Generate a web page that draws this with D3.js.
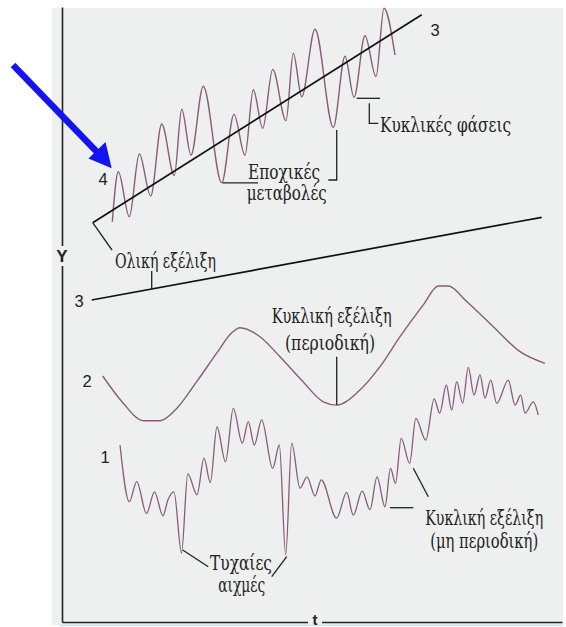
<!DOCTYPE html>
<html><head><meta charset="utf-8">
<script src="https://cdn.jsdelivr.net/npm/d3@7"></script>
<style>html,body{margin:0;padding:0;background:#fff;} svg{display:block;}</style>
</head><body><svg id="c" width="566" height="627"></svg>
<script>
// ---- data (t, Y) ----
const seasonalTrend = [[6.14,66.55],[71.94,101.2]];
const seasonal = [[10.06,66.7],[11.26,75.05],[13.46,67.55],[15.46,78],[17.74,71],[19.94,83],[22.46,74.4],[23.94,85.45],[25.8,77.8],[28.26,89.3],[31.94,73.2],[34.4,84.6],[36.6,77.8],[38.26,88.7],[40.14,82.3],[42.14,92.1],[44.8,83.55],[46.26,94.8],[47.94,87.55],[50.6,98.8],[54.26,82.45],[56.6,94.3],[58.4,87.45],[60.6,97.7],[62.8,90.9],[64.4,102.3],[66.6,94.5]];
const trend = [[5.94,53.67],[95.94,67.45]];
const periodic = [[8.14,41],[12.26,36.45],[16.26,33.55],[19.6,33.55],[22.94,35.6],[26.94,40.05],[30.94,44.8],[33.94,48.2],[35.6,49.05],[39.6,47.55],[43.6,44.2],[47.94,40.3],[52.26,36.7],[54.94,36.15],[59.26,38.4],[63.6,42.55],[67.6,47.55],[72.26,52.85],[75.26,56],[77.26,56],[80.94,53.4],[86.26,49.2],[91.6,45.05],[96.6,43.1]];
const irregular = [[11.6,29.5],[13.46,20.05],[14.94,23.4],[16.9,18.1],[18.5,21.7],[20.2,17.7],[21.16,20.3],[22.4,21.7],[23.9,11.5],[25.16,24.7],[27,21.2],[28.4,27.3],[29.66,23.25],[31,32.5],[32.7,26.7],[34.26,35.6],[36.06,29.8],[37.26,33.4],[38.46,29.5],[39.94,33.7],[42.14,25.6],[43.46,29.5],[44.74,11.2],[45.94,29.8],[47.6,22.3],[49,24.2],[50.6,21],[51.84,23.7],[54.92,17.3],[56.94,21.6],[58.26,17.8],[60.04,21.8],[61.6,18.7],[63,24.2],[64.6,19.2],[65.7,25.6],[66.7,23.1],[67.84,30.6],[69.54,26.45],[70.76,33.95],[72.76,30.3],[74.44,37.2],[75.54,34.8],[76.86,39.5],[77.94,35.3],[78.94,40.05],[80.14,36.45],[81.26,42.45],[82.4,37.8],[83.6,41.2],[84.6,37.3],[85.74,40.3],[86.94,36.45],[89.26,40.3],[90.6,36.15],[91.74,37.8],[92.6,34.8],[94.26,36.7],[95.26,34.5]];
const seriesNumbers = ["4","3","3","2","1"];
const axisLabels = ["Y","t"];
const notes = ["Εποχικές","μεταβολές","Κυκλικές φάσεις","Ολική εξέλιξη","Κυκλική εξέλιξη","(περιοδική)","Τυχαίες","αιχμές","Κυκλική εξέλιξη","(μη περιοδική)"];

// ---- drawing ----
const svg = d3.select("#c");
const x = d3.scaleLinear().domain([0,100]).range([62,562]);
const y = d3.scaleLinear().domain([0,100]).range([622,22]);
const BG = "#eeefef", INK = "#222222", PURPLE = "#8a5a7c";

svg.append("rect").attr("x",52).attr("y",8).attr("width",511).attr("height",617).attr("fill",BG);
svg.append("line").attr("x1",60).attr("x2",563).attr("y1",625.5).attr("y2",625.5).attr("stroke","#cfe2ee").attr("stroke-width",1.5);

// axes
const yAxis = d3.axisLeft(y.copy().domain([0,102.5]).range([622,7])).ticks(0).tickSizeOuter(0);
const xAxis = d3.axisBottom(x).ticks(0).tickSizeOuter(0);
const gy = svg.append("g").attr("transform",`translate(${x(0)},0)`).call(yAxis);
const gx = svg.append("g").attr("transform",`translate(0,${y(0)})`).call(xAxis);
[gy,gx].forEach(g=>g.select(".domain").attr("stroke",INK).attr("stroke-width",1.6));

const line = d3.line().x(d=>x(d[0])).y(d=>y(d[1]));
const smooth = d3.line().x(d=>x(d[0])).y(d=>y(d[1])).curve(d3.curveMonotoneX);

svg.append("path").attr("d",smooth(seasonal)).attr("fill","none").attr("stroke",PURPLE).attr("stroke-width",1.4);
svg.append("path").attr("d",line(seasonalTrend)).attr("fill","none").attr("stroke","#111").attr("stroke-width",1.7);
svg.append("path").attr("d",line(trend)).attr("fill","none").attr("stroke","#111").attr("stroke-width",1.7);
svg.append("path").attr("d",smooth(periodic)).attr("fill","none").attr("stroke",PURPLE).attr("stroke-width",1.4);
svg.append("path").attr("d",smooth(irregular)).attr("fill","none").attr("stroke",PURPLE).attr("stroke-width",1.3);

// leader lines (data units)
const leaders = [
  [[6.14,66.55],[10,62]],
  [[17.94,58.5],[17.94,55.5]],
  [[32.14,73.2],[39.2,73.2]],
  [[53.26,73.67],[54.94,73.67],[54.94,82]],
  [[58.94,87.28],[63.6,87.28]],
  [[61.46,86.45],[61.46,83.12],[63.26,83.12]],
  [[54.94,44.2],[54.94,36.17]],
  [[24.14,12],[29.26,9.22]],
  [[44.94,10.88],[41.94,7.55]],
  [[65.6,19.05],[70.26,19.05]],
  [[70.26,25.62],[73.26,20.88]]
];
leaders.forEach(p=>svg.append("path").attr("d",line(p)).attr("fill","none").attr("stroke",INK).attr("stroke-width",1.3));

// Greek notes: [t, Y, anchor, pixel width]
const notePos = [[44.4,73.83,"middle",72],[44.94,70.33,"middle",80],[63.6,81.67,"start",131],[10.6,59,"start",101],[53.94,49.88,"middle",120],[53.6,45.33,"middle",90],[35.8,8.67,"middle",62],[35.94,5.05,"middle",47],[84.44,16.17,"middle",118],[84.44,12.33,"middle",108]];
notes.forEach((s,i)=>{
  svg.append("text").attr("x",x(notePos[i][0])).attr("y",y(notePos[i][1])).attr("text-anchor",notePos[i][2])
    .attr("textLength",notePos[i][3]).attr("lengthAdjust","spacingAndGlyphs")
    .attr("font-family","DejaVu Serif Condensed, DejaVu Serif, serif").attr("font-size",19.5).attr("fill",INK).text(s);
});

// series numbers
const numPos = [[8.2,72.83],[74.6,97.67],[3.4,52.5],[5,39.17],[8.6,26.5]];
seriesNumbers.forEach((s,i)=>{
  svg.append("text").attr("x",x(numPos[i][0])).attr("y",y(numPos[i][1])).attr("text-anchor","middle")
    .attr("font-family","Liberation Sans, Arial, sans-serif").attr("font-size",16.5).attr("fill",INK).text(s);
});

// axis labels with gaps
svg.append("rect").attr("x",x(0)-6).attr("y",y(60)-16).attr("width",12).attr("height",20).attr("fill",BG);
svg.append("text").attr("x",x(0)).attr("y",y(60)).attr("text-anchor","middle")
  .attr("font-family","Liberation Sans, Arial, sans-serif").attr("font-weight","bold").attr("font-size",17).attr("fill",INK).text(axisLabels[0]);
svg.append("rect").attr("x",x(50.6)-7).attr("y",y(0)-3).attr("width",14).attr("height",6).attr("fill",BG);
svg.append("text").attr("x",x(50.6)).attr("y",y(-0.5)).attr("text-anchor","middle")
  .attr("font-family","Liberation Sans, Arial, sans-serif").attr("font-weight","bold").attr("font-size",15).attr("fill",INK).text(axisLabels[1]);

// blue pointer arrow (overlay)
svg.append("line").attr("x1",13).attr("y1",65).attr("x2",97).attr("y2",152).attr("stroke","#1414f0").attr("stroke-width",6.5);
svg.append("path").attr("d","M111.7,168.3 L88.5,158.5 L105.5,142 Z").attr("fill","#1414f0");
</script></body></html>
